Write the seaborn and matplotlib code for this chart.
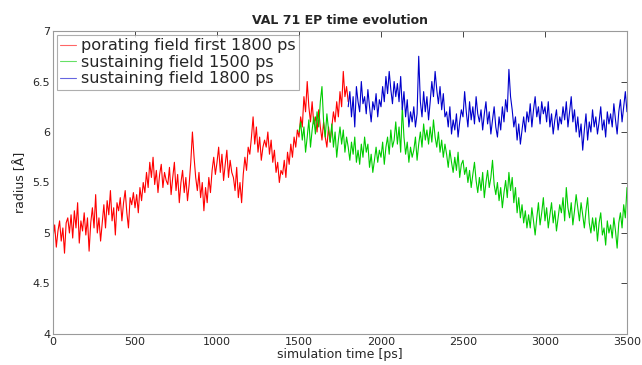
import numpy as np
import pandas as pd
import seaborn as sns
import matplotlib.pyplot as plt
from matplotlib.ticker import FormatStrFormatter

# radius values, one value every 10 ps
red_start = 0
red_radius = [
    4.95, 5.08, 4.86, 5.02, 5.12, 4.92, 5.05, 4.80, 5.10, 5.15,
    5.00, 5.18, 4.95, 5.22, 5.05, 5.30, 4.90, 5.12, 5.02, 5.20,
    4.98, 5.15, 4.82, 5.10, 5.25, 5.05, 5.38, 5.00, 5.15, 4.92,
    5.10, 5.28, 5.05, 5.32, 5.18, 5.42, 5.12, 5.25, 4.98, 5.30,
    5.22, 5.35, 5.12, 5.30, 5.42, 5.20, 5.05, 5.35, 5.28, 5.40,
    5.25, 5.38, 5.20, 5.45, 5.32, 5.50, 5.40, 5.60, 5.45, 5.70,
    5.55, 5.75, 5.48, 5.62, 5.40, 5.58, 5.68, 5.45, 5.60, 5.52,
    5.48, 5.65, 5.38, 5.55, 5.70, 5.42, 5.58, 5.30, 5.50, 5.62,
    5.40, 5.55, 5.32, 5.48, 5.70, 6.00, 5.75, 5.55, 5.42, 5.60,
    5.35, 5.50, 5.22, 5.45, 5.30, 5.55, 5.40, 5.62, 5.75, 5.58,
    5.70, 5.85, 5.60, 5.78, 5.52, 5.68, 5.82, 5.55, 5.72, 5.60,
    5.55, 5.42, 5.65, 5.35, 5.50, 5.30, 5.58, 5.75, 5.62, 5.85,
    5.78, 5.95, 6.15, 5.88, 6.05, 5.80, 5.95, 5.72, 5.85, 5.92,
    5.85, 6.00, 5.78, 5.92, 5.70, 5.82, 5.60, 5.70, 5.50, 5.62,
    5.58, 5.72, 5.55, 5.80, 5.68, 5.88, 5.75, 5.95, 5.85, 6.02,
    5.95, 6.15, 6.05, 6.35, 6.20, 6.50, 6.25, 6.10, 6.30, 6.08,
    6.15, 6.00, 6.22, 6.05, 5.92, 6.10, 5.95, 5.85, 6.05, 5.90,
    6.05, 6.20, 6.10, 6.30, 6.15, 6.40, 6.25, 6.60, 6.35, 6.45,
    6.30,
]

green_start = 1500
green_radius = [
    6.00, 6.10, 5.92, 6.05, 5.80, 5.95, 6.12, 5.85, 6.02, 6.15,
    5.98, 6.20, 6.05, 6.30, 6.45, 6.10, 5.95, 6.18, 6.02, 5.90,
    6.08, 5.85, 6.00, 5.75, 5.92, 6.05, 5.88, 6.02, 5.80, 5.95,
    5.85, 5.72, 5.90, 5.78, 5.95, 5.70, 5.82, 5.68, 5.88, 5.75,
    5.95, 5.80, 5.88, 5.65, 5.78, 5.60, 5.72, 5.85, 5.70, 5.82,
    5.75, 5.90, 5.68, 5.85, 5.95, 5.78, 6.02, 5.85, 5.92, 6.10,
    5.88, 6.05, 5.80, 6.25, 5.95, 5.78, 5.90, 5.70, 5.85, 5.75,
    5.82, 5.95, 5.72, 5.88, 6.00, 5.85, 6.08, 5.92, 6.02, 5.88,
    6.05, 5.90, 6.12, 5.95, 5.85, 6.00, 5.80, 5.92, 5.75, 5.88,
    5.78, 5.65, 5.82, 5.70, 5.60, 5.75, 5.62, 5.80, 5.55, 5.68,
    5.72, 5.58, 5.65, 5.50, 5.62, 5.45, 5.58, 5.70, 5.52, 5.40,
    5.55, 5.42, 5.60, 5.35, 5.50, 5.62, 5.45, 5.55, 5.72, 5.48,
    5.38, 5.50, 5.32, 5.45, 5.25, 5.40, 5.52, 5.35, 5.60, 5.42,
    5.55, 5.30, 5.45, 5.20, 5.35, 5.15, 5.28, 5.10, 5.22, 5.05,
    5.18, 5.05, 5.25, 5.12, 4.98, 5.15, 5.30, 5.08, 5.20, 5.35,
    5.12, 5.25, 5.05, 5.18, 5.30, 5.10, 5.22, 5.02, 5.15, 5.28,
    5.20, 5.35, 5.12, 5.45, 5.25, 5.15, 5.30, 5.08, 5.22, 5.38,
    5.25, 5.12, 5.30, 5.18, 5.05, 5.22, 5.35, 5.10, 5.00, 5.15,
    5.02, 5.15, 4.92, 5.10, 5.20, 4.98, 5.05, 4.88, 5.12, 5.00,
    5.08, 4.95, 5.15, 5.02, 4.85, 5.10, 5.20, 5.05, 5.28, 5.15,
    5.45,
]

blue_start = 1800
blue_radius = [
    6.25, 6.40, 6.15, 6.35, 6.05, 6.45, 6.30, 6.20, 6.50, 6.28,
    6.35, 6.18, 6.42, 6.25, 6.10, 6.30, 6.22, 6.38, 6.15, 6.32,
    6.25, 6.45, 6.30, 6.55, 6.38, 6.60, 6.42, 6.28, 6.50, 6.35,
    6.48, 6.30, 6.55, 6.22, 6.40, 6.15, 6.32, 6.05, 6.20, 6.10,
    6.25, 6.05, 6.18, 6.75, 6.30, 6.15, 6.40, 6.20, 6.35, 6.12,
    6.30, 6.50, 6.35, 6.60, 6.42, 6.28, 6.45, 6.22, 6.38, 6.15,
    6.20, 6.05, 6.25, 5.98, 6.12, 6.02, 6.18, 5.95, 6.10, 6.22,
    6.15, 6.40, 6.20, 6.05, 6.30, 6.12, 6.25, 6.08, 6.35, 6.18,
    6.10, 6.22, 6.02, 6.18, 6.30, 6.08, 6.20, 5.98, 6.12, 6.25,
    6.05, 5.95, 6.15, 6.02, 6.25, 6.10, 6.32, 6.20, 6.62, 6.35,
    6.22, 6.05, 6.15, 5.92, 6.08, 5.88, 6.02, 6.15, 6.00, 6.20,
    6.10, 6.28, 6.05, 6.22, 6.35, 6.15, 6.25, 6.08, 6.30, 6.18,
    6.25, 6.10, 6.30, 6.05, 6.18, 5.98, 6.12, 6.22, 6.02, 6.15,
    6.08, 6.25, 6.12, 6.30, 6.05, 6.20, 6.35, 6.10, 6.22, 6.00,
    6.15, 5.95, 6.08, 5.82, 6.02, 6.18, 5.92, 6.10, 6.00, 6.22,
    6.05, 6.15, 5.98, 6.10, 6.25, 6.02, 6.12, 5.95, 6.20, 6.08,
    6.18, 6.05, 6.28, 6.12, 5.98, 6.20, 6.32, 6.10, 6.25, 6.40,
    6.20,
]

labels = ["porating field first 1800 ps", "sustaining field 1500 ps", "sustaining field 1800 ps"]
colors = ["#ff0000", "#00cc00", "#0000cc"]
step = 10


def frame(start, values, label):
    t = start + step * np.arange(len(values))
    return pd.DataFrame({"time": t, "radius": values, "run": label})


df = pd.concat([frame(red_start, red_radius, labels[0]),
                frame(green_start, green_radius, labels[1]),
                frame(blue_start, blue_radius, labels[2])], ignore_index=True)

sns.set_style("white")
plt.rcParams["font.family"] = ["DejaVu Sans"]

fig = plt.figure(figsize=(6.42, 3.65), dpi=100)
ax = fig.add_axes([0.0826, 0.085, 0.894, 0.83])

sns.lineplot(data=df, x="time", y="radius", hue="run", palette=colors,
             hue_order=labels, estimator=None, linewidth=0.8, ax=ax)

ax.set_xlim(0, 3500)
ax.set_ylim(4, 7)
ax.set_xticks(np.arange(0, 3501, 500))
ax.set_yticks(np.arange(4, 7.01, 0.5))
ax.yaxis.set_major_formatter(FormatStrFormatter("%g"))
ax.tick_params(direction="in", length=4, width=0.6, top=True, right=True,
               labelsize=8, colors="#262626", pad=2)
for s in ax.spines.values():
    s.set_color("#9a9a9a")
    s.set_linewidth(0.8)

ax.set_xlabel("simulation time [ps]", fontsize=9, color="#262626", labelpad=1)
ax.set_ylabel("radius [Å]", fontsize=9, color="#262626", labelpad=4)
ax.set_title("VAL 71 EP time evolution", fontsize=9, fontweight="bold", pad=5)

leg = ax.legend(loc="upper left", fontsize=11.6, frameon=True, fancybox=False,
                handlelength=1.0, handletextpad=0.3, labelspacing=0.1,
                borderpad=0.2, borderaxespad=0.25)
leg.get_frame().set_edgecolor("#9a9a9a")
leg.get_frame().set_linewidth(0.8)
for h in leg.get_lines():
    h.set_linewidth(0.8)
    h.set_alpha(0.6)

fig.savefig("out.png", dpi=100)
